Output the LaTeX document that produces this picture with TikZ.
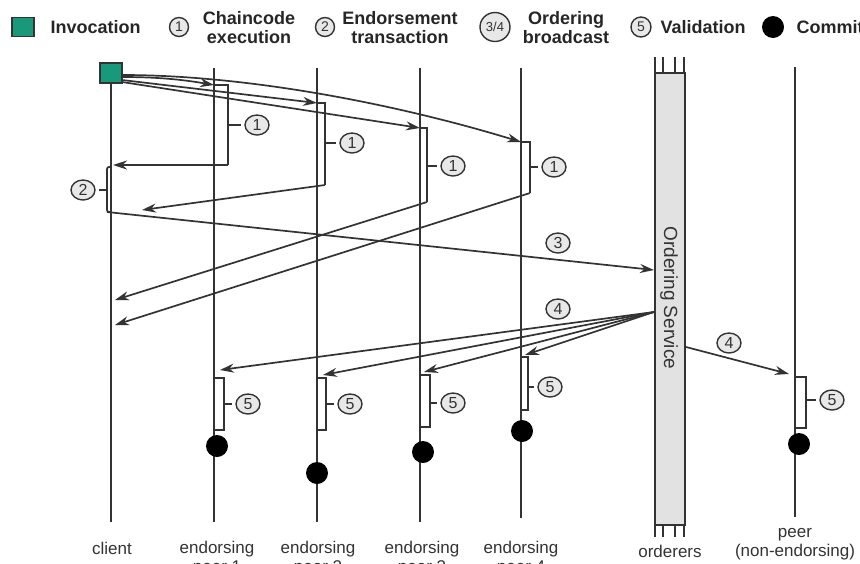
\documentclass[tikz,border=0pt]{standalone}
\usepackage{fontspec}
\setmainfont{Liberation Sans}
\usetikzlibrary{arrows.meta,shapes.geometric}
\definecolor{ink}{HTML}{333333}
\definecolor{invgreen}{HTML}{17997A}
\definecolor{numfill}{HTML}{E8E8E8}
\definecolor{ordfill}{HTML}{E2E2E2}

\begin{document}
\begin{tikzpicture}[x=1pt, y=-1pt, >={Stealth[length=14pt, width=9pt]},
  every node/.style={text=ink},
  line/.style={draw=ink, line width=1.7pt},
  msg/.style={line, ->},
  num/.style={ellipse, draw=ink, fill=numfill, line width=1.4pt, inner sep=0pt, minimum width=24pt, minimum height=20pt, font=\fontsize{16}{16}\selectfont},
  commit/.style={circle, fill=black, inner sep=0pt, minimum size=22pt},
  legend/.style={font=\fontsize{18}{19}\selectfont\bfseries, align=center, text=black!85},
  role/.style={font=\fontsize{17}{19}\selectfont, align=center, inner sep=0pt}]
\useasboundingbox (0,0) rectangle (860,563);

\node[draw=ink, fill=invgreen, line width=1.2pt, minimum width=22pt, minimum height=19pt, inner sep=0pt] (kInv) at (23,27) {};
\node[legend, anchor=base west] (tInv) at (47,33) {Invocation};
\node[num, minimum width=19pt, minimum height=19pt, font=\fontsize{14}{14}\selectfont] (kOne) at (179,27) {1};
\node[legend] (tOne) at (249,28) {Chaincode\\execution};
\node[num, minimum width=19pt, minimum height=19pt, font=\fontsize{14}{14}\selectfont] (kTwo) at (325,27) {2};
\node[legend] (tTwo) at (400,28) {Endorsement\\transaction};
\node[num, minimum width=30pt, minimum height=29pt, font=\fontsize{13}{13}\selectfont] (kOrd) at (495,27) {3/4};
\node[legend] (tOrd) at (566,28) {Ordering\\broadcast};
\node[num, minimum width=20pt, minimum height=20pt, font=\fontsize{14}{14}\selectfont] (kFive) at (641,27) {5};
\node[legend, anchor=base west] (tFive) at (657,33) {Validation};
\node[commit, minimum size=22pt] (kCommit) at (773,27) {};
\node[legend, anchor=base west] (tCommit) at (793,33) {Commit};

\node[role, anchor=base] (client) at (112,554) {client};
\node[role, anchor=north] (peer1) at (217,541) {endorsing\\peer 1};
\node[role, anchor=north] (peer2) at (318,541) {endorsing\\peer 2};
\node[role, anchor=north] (peer3) at (422,541) {endorsing\\peer 3};
\node[role, anchor=north] (peer4) at (521,541) {endorsing\\peer 4};
\node[role, anchor=base] (orderers) at (670,557) {orderers};
\node[role, anchor=north] (peer5) at (795,528) {peer\\(non-endorsing)};

\node[draw=ink, fill=invgreen, line width=1.2pt, minimum width=22pt, minimum height=20pt, inner sep=0pt] (inv) at (111,73) {};
\draw[line] (inv.south) -- (111,522);
\draw[line] (214,68) -- (214,522);
\draw[line] (317,68) -- (317,522);
\draw[line] (420,68) -- (420,522);
\draw[line] (521,68) -- (521,518);
\draw[line] (795,67) -- (795,517);
\node[draw=ink, fill=ordfill, line width=1.7pt, minimum width=30pt, minimum height=452pt, inner sep=0pt] (ord) at (670,299) {};
\node[rotate=-90, font=\fontsize{19}{19}\selectfont] (ordText) at (669,298) {Ordering Service};
\draw[line] (655,57) -- (655,73) (663,57) -- (663,73) (675,57) -- (675,73) (684,57) -- (684,73);
\draw[line] (655,525) -- (655,537) (663,525) -- (663,537) (675,525) -- (675,537) (684,525) -- (684,537);

\coordinate (s1) at (122,77);
\coordinate (s2) at (122,80);
\coordinate (s3) at (122,82);
\coordinate (s4) at (122,75);
\coordinate (a1) at (214,85);
\coordinate (b1) at (228,165);
\coordinate (a2) at (317,103);
\coordinate (b2) at (325,185);
\coordinate (a3) at (420,128);
\coordinate (b3) at (427,202);
\coordinate (a4) at (521,142);
\coordinate (b4) at (530,193);
\draw[msg] (s1) .. controls (160,77) and (185,80) .. (a1);
\draw[msg] (s2) -- (a2);
\draw[msg] (s3) -- (a3);
\draw[msg] (s4) .. controls (250,75) and (400,105) .. (a4);
\draw[line] (a1) -| (b1);
\draw[line] (a2) -| (b2);
\draw[line] (a3) -| (b3);
\draw[line] (a4) -| (b4);
\node[num] (x1) at (257,125) {1};
\node[num] (x2) at (352,143) {1};
\node[num] (x3) at (453,166) {1};
\node[num] (x4) at (554,167) {1};
\draw[line, shorten >=3pt] (b1 |- x1) -- (x1);
\draw[line, shorten >=3pt] (b2 |- x2) -- (x2);
\draw[line, shorten >=3pt] (b3 |- x3) -- (x3);
\draw[line, shorten >=3pt] (b4 |- x4) -- (x4);

\coordinate (r1) at (113,165);
\coordinate (r2) at (142,210);
\coordinate (r3) at (115,300);
\coordinate (r4) at (115,325);
\draw[msg] (b1) -- (r1);
\draw[msg] (b2) -- (r2);
\draw[msg] (b3) -- (r3);
\draw[msg] (b4) -- (r4);

\coordinate (c2a) at (111,167);
\coordinate (c2b) at (107,212);
\draw[line, rounded corners=2pt] (c2a) -- (107,167) -- (c2b) -- (111,212);
\node[num] (x5) at (83,190) {2};
\draw[line, shorten >=3pt] (c2b |- x5) -- (x5);

\coordinate (o3) at (654,270);
\draw[msg] (c2b) -- (o3);
\node[num] (x6) at (558,243) {3};

\coordinate (bc) at (654,312);
\coordinate (d1) at (220,370);
\coordinate (d2) at (323,375);
\coordinate (d3) at (424,372);
\coordinate (d4) at (525,355);
\draw[msg] (bc) -- (d1);
\draw[msg] (bc) -- (d2);
\draw[msg] (bc) -- (d3);
\draw[msg] (bc) -- (d4);
\node[num] (x7) at (558,309) {4};
\coordinate (bn) at (686,347);
\coordinate (d5) at (789,374);
\draw[msg] (bn) -- (d5);
\node[num] (x8) at (729,343) {4};

\coordinate (v1a) at (214,378);
\coordinate (v1b) at (224,430);
\coordinate (v2a) at (317,378);
\coordinate (v2b) at (326,430);
\coordinate (v3a) at (420,375);
\coordinate (v3b) at (430,427);
\coordinate (v4a) at (521,357);
\coordinate (v4b) at (528,410);
\coordinate (v5a) at (795,377);
\coordinate (v5b) at (806,428);
\draw[line] (v1a) -| (v1b) -- (214,430);
\draw[line] (v2a) -| (v2b) -- (317,430);
\draw[line] (v3a) -| (v3b) -- (420,427);
\draw[line] (v4a) -| (v4b) -- (521,410);
\draw[line] (v5a) -| (v5b) -- (795,428);
\node[num] (y1) at (248,404) {5};
\node[num] (y2) at (350,404) {5};
\node[num] (y3) at (453,403) {5};
\node[num] (y4) at (550,387) {5};
\node[num] (y5) at (832,400) {5};
\draw[line, shorten >=3pt] (v1b |- y1) -- (y1);
\draw[line, shorten >=3pt] (v2b |- y2) -- (y2);
\draw[line, shorten >=3pt] (v3b |- y3) -- (y3);
\draw[line, shorten >=3pt] (v4b |- y4) -- (y4);
\draw[line, shorten >=3pt] (v5b |- y5) -- (y5);

\node[commit] (m1) at (217,446) {};
\node[commit] (m2) at (317,473) {};
\node[commit] (m3) at (423,452) {};
\node[commit] (m4) at (522,431) {};
\node[commit] (m5) at (799,444) {};
\end{tikzpicture}
\end{document}
